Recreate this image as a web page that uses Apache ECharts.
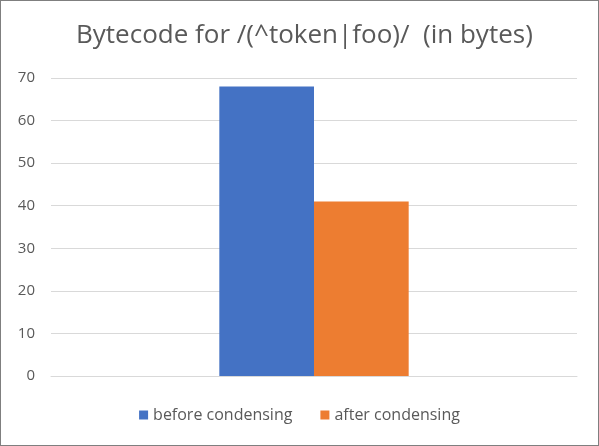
<!DOCTYPE html>
<html><head><meta charset="utf-8">
<script src="https://cdn.jsdelivr.net/npm/echarts@6/dist/echarts.min.js"></script>
<style>html,body{margin:0;padding:0;background:#fff}#c{width:597px;height:444px;border:1px solid #7f7f7f}</style>
</head><body><div id="c"></div>
<script>
var categories = [''];
var seriesNames = ['before condensing', 'after condensing'];
var beforeValues = [68];
var afterValues = [41];
var chart = echarts.init(document.getElementById('c'));
var font = '"Open Sans", "Noto Sans", sans-serif';
chart.setOption({
  animation: false,
  title: {text: 'Bytecode for /(^token|foo)/  (in bytes)', left: 70, top: 17,
    textStyle: {fontFamily: font, fontSize: 26, fontWeight: 'normal', color: '#595959'}},
  grid: {left: 50, right: 21, top: 77, bottom: 69},
  legend: {bottom: 17, left: 'center', itemWidth: 9, itemHeight: 9, itemGap: 28,
    icon: 'rect', textStyle: {fontFamily: font, fontSize: 16, color: '#595959'}},
  xAxis: {type: 'category', data: categories, axisTick: {show: false},
    axisLine: {lineStyle: {color: '#d9d9d9'}}, axisLabel: {show: false}},
  yAxis: {type: 'value', min: 0, max: 70, interval: 10,
    axisLabel: {fontFamily: font, fontSize: 15, color: '#595959', margin: 16},
    splitLine: {lineStyle: {color: '#d9d9d9'}}},
  series: [
    {name: seriesNames[0], type: 'bar', data: beforeValues, itemStyle: {color: '#4472c4'}, barGap: '0%', barCategoryGap: '64%'},
    {name: seriesNames[1], type: 'bar', data: afterValues, itemStyle: {color: '#ed7d31'}, barGap: '0%', barCategoryGap: '64%'}
  ]
});
</script></body></html>
